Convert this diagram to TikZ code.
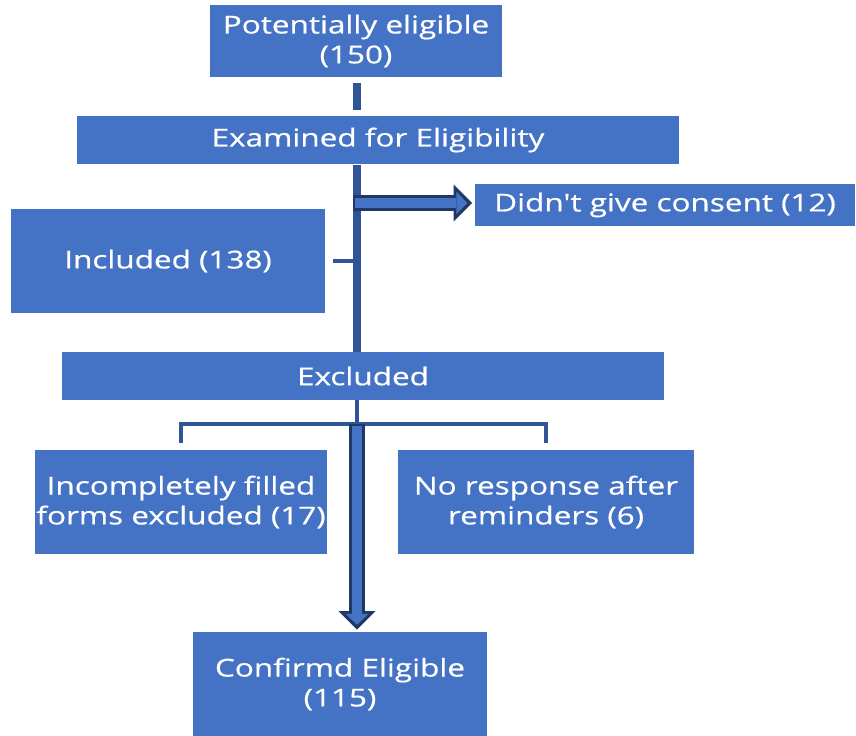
\documentclass[tikz,border=0pt]{standalone}
\usepackage{fontspec}
\newfontfamily\boxfont{Open Sans}[FakeStretch=1.28, FakeBold=0.6]
\usetikzlibrary{arrows.meta, calc}
\definecolor{boxblue}{RGB}{68,114,196}
\definecolor{lineblue}{RGB}{47,85,151}
\definecolor{navy}{RGB}{31,56,100}

\begin{document}
\begin{tikzpicture}[x=0.02cm, y=-0.02cm,
    box/.style={fill=boxblue, text=white, align=center, inner sep=0pt,
        font=\boxfont\fontsize{14}{17}\selectfont},
    trunk/.style={lineblue, line width=4pt},
    thinline/.style={lineblue, line width=2.5pt},
    fatout/.style={navy, line width=9pt, -{Triangle[length=10.5pt,width=21pt,line width=0pt]}},
    fatin/.style={boxblue, line width=5.4pt, shorten >=2.8pt, -{Triangle[length=6.2pt,width=13pt,line width=0pt]}}]
    \useasboundingbox (0,0) rectangle (856,736);
    % boxes
    \node[box, minimum width=5.86cm, minimum height=1.44cm] (pot) at (356,41) {Potentially eligible\\(150)};
    \node[box, minimum width=12.06cm, minimum height=0.98cm] (exam) at (378,140) {Examined for Eligibility};
    \node[box, minimum width=7.62cm, minimum height=0.84cm] (cons) at (665,205) {Didn't give consent (12)};
    \node[box, minimum width=6.3cm, minimum height=2.08cm] (incl) at (168,261) {Included (138)};
    \node[box, minimum width=12.06cm, minimum height=0.96cm] (excl) at (363,376) {Excluded};
    \node[box, minimum width=5.86cm, minimum height=2.1cm] (inc) at (181,502) {Incompletely filled\\forms excluded (17)};
    \node[box, minimum width=5.94cm, minimum height=2.1cm] (nores) at (546,502) {No response after\\reminders (6)};
    \node[box, minimum width=5.88cm, minimum height=2.08cm] (conf) at (340,684) {Confirmd Eligible\\(115)};
    % trunk
    \coordinate (tx) at (357,0);
    \coordinate (bk) at (357,424);
    \draw[trunk, shorten <=0.12cm, shorten >=0.1cm] (tx |- pot.south) -- (tx |- exam.north);
    \draw[trunk] (tx |- exam.south) -- (tx |- excl.north);
    \draw[thinline, shorten <=0.14cm] (incl.east) -- (tx |- incl.east);
    \draw[fatout] ($(tx |- cons.west)+(-4,-2)$) -- ($(cons.west)+(-2,-2)$);
    \draw[fatin] ($(tx |- cons.west)+(-2,-2)$) -- ($(cons.west)+(-2,-2)$);
    % excluded branches
    \draw[thinline] (tx |- excl.south) -- (bk);
    \draw[thinline, shorten <=0.12cm, shorten >=0.12cm] (inc.north) |- (bk) -| (nores.north);
    \draw[fatout] (bk) -- ($(bk |- conf.north)+(0,-2)$);
    \draw[fatin] ($(bk)+(0,2)$) -- ($(bk |- conf.north)+(0,-2)$);
\end{tikzpicture}
\end{document}
